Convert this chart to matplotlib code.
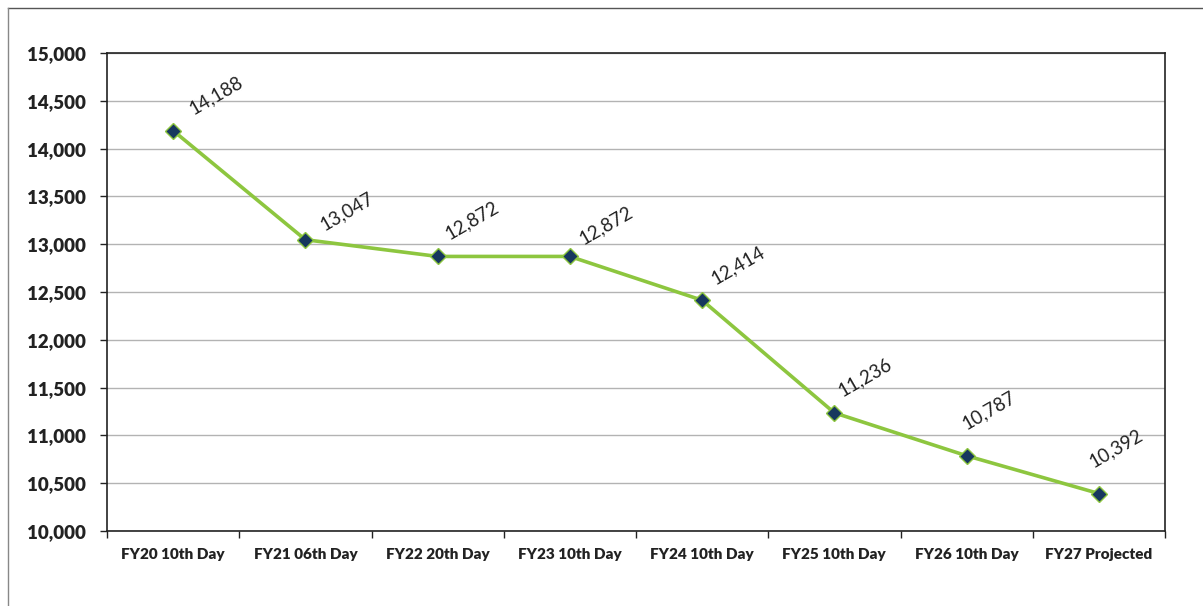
import matplotlib
matplotlib.use("Agg")
import matplotlib.pyplot as plt
from matplotlib.lines import Line2D
from matplotlib.ticker import FuncFormatter, FixedLocator

categories = ["FY20 10th Day", "FY21 06th Day", "FY22 20th Day", "FY23 10th Day",
              "FY24 10th Day", "FY25 10th Day", "FY26 10th Day", "FY27 Projected"]
values = [14188, 13047, 12872, 12872, 12414, 11236, 10787, 10392]

# label placement offsets (pixels, right/up) as in the reference
label_offsets = [(22, 13), (20, 6), (13, 14), (15, 9), (14, 13), (9, 14), (1, 23), (-4, 23)]

plt.rcParams['font.family'] = ['Lato', 'DejaVu Sans']

fig = plt.figure(figsize=(12.03, 6.06), dpi=100)
W, H = 1203, 606
ax = fig.add_axes([107 / W, 1 - 531 / H, (1165 - 107) / W, (531 - 53) / H])

x = list(range(len(categories)))
ax.plot(x, values, color='#8DC63F', lw=2.6, marker='D', markersize=8,
        markerfacecolor='#17375E', markeredgecolor='#8DC63F', markeredgewidth=1.0, zorder=3)

for xi, v, off in zip(x, values, label_offsets):
    ax.annotate(f"{v:,}", (xi, v), xytext=off, textcoords='offset pixels',
                rotation=30, rotation_mode='anchor', ha='left', va='bottom',
                fontsize=13.5, color='#222222')

ax.set_xlim(-0.5, len(categories) - 0.5)
ax.set_ylim(10000, 15000)
ax.set_yticks(range(10000, 15001, 500))
ax.yaxis.set_major_formatter(FuncFormatter(lambda v, p: f"{int(v):,}"))
ax.grid(axis='y', color='#b3b3b3', lw=1.0)
ax.set_axisbelow(True)

ax.set_xticks(x)
ax.set_xticklabels(categories, fontsize=11, fontweight='heavy', color='#222222')
ax.xaxis.set_minor_locator(FixedLocator([i - 0.5 for i in range(len(categories) + 1)]))
ax.tick_params(axis='x', which='major', length=0, pad=12)
ax.tick_params(axis='x', which='minor', length=5, color='#222222', width=1)
ax.tick_params(axis='y', length=5, color='#222222', width=1, pad=10,
               labelsize=13.5, labelcolor='#222222')
for lbl in ax.get_yticklabels():
    lbl.set_fontweight('heavy')

for s in ax.spines.values():
    s.set_color('#222222')
    s.set_linewidth(1.2)

# outer chart border (partially visible)
fig.add_artist(Line2D([8 / W, 1], [1 - 8 / H, 1 - 8 / H], color='#555555', lw=1.0))
fig.add_artist(Line2D([8 / W, 8 / W], [0, 1 - 8 / H], color='#888888', lw=1.0))

fig.savefig("out.png", dpi=100)
